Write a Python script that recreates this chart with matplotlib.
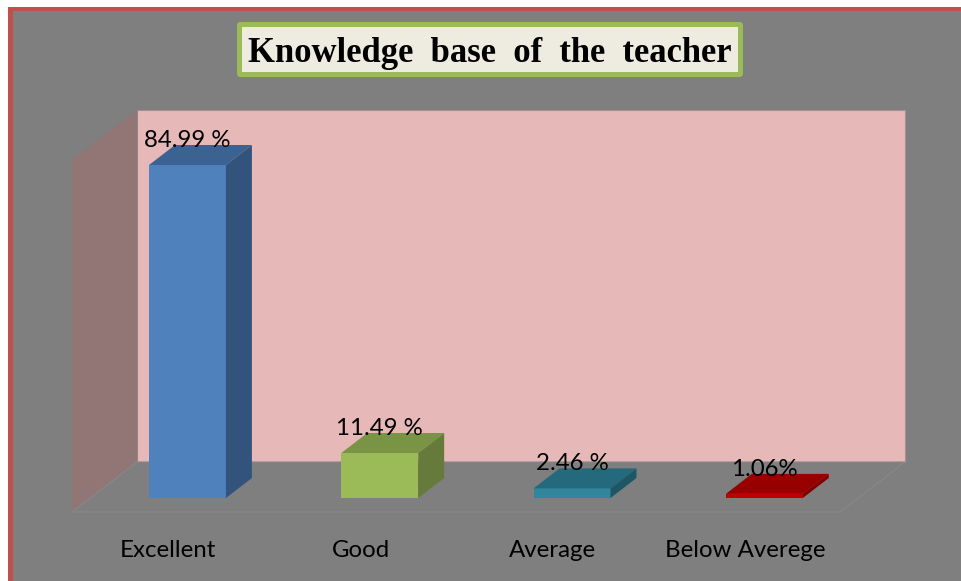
import matplotlib
matplotlib.use('Agg')
import matplotlib.pyplot as plt
from matplotlib.patches import Polygon, Rectangle, FancyBboxPatch

#Data
categories = ['Excellent', 'Good', 'Average', 'Below Averege']
values = [84.99, 11.49, 2.46, 1.06]
value_labels = ['84.99 %', '11.49 %', '2.46 %', '1.06%']
front_colors = ['#4f81bd', '#9bbb59', '#31859c', '#c00000']
top_colors = ['#3c6292', '#7a9446', '#24697c', '#980000']
side_colors = ['#32537c', '#667b3b', '#1d5766', '#7f0000']

fig = plt.figure(figsize=(9.62, 5.81), dpi=100, facecolor='white')

#Background axes works in image pixels, for frame, title and walls
bg = fig.add_axes([0, 0, 1, 1])
bg.set_xlim(0, 962)
bg.set_ylim(581, 0)
bg.axis('off')

bg.add_patch(Rectangle((8, 7), 960, 580, facecolor='#c0504d', edgecolor='none'))
bg.add_patch(Rectangle((13, 11), 960, 580, facecolor='#7f7f7f', edgecolor='none'))

#Walls and floor
bg.add_patch(Polygon([(137, 110), (905, 110), (905, 462), (137, 462)], facecolor='#e6b9b8', edgecolor='#a88f8f', lw=0.8))
bg.add_patch(Polygon([(72, 160), (137, 110), (137, 462), (72, 512)], facecolor='#927575', edgecolor='#8a7a7a', lw=0.8))
bg.add_patch(Polygon([(72, 512), (137, 462), (905, 462), (840, 512)], facecolor='#7f7f7f', edgecolor='#888888', lw=0.8))

#Title box
bg.add_patch(FancyBboxPatch((239.5, 24.5), 501, 50, boxstyle='round,pad=0,rounding_size=1',
                            facecolor='#eeece1', edgecolor='#9bbb59', lw=3.6))
bg.text(490, 54, 'Knowledge  base  of  the  teacher', family='Liberation Serif', weight='bold',
        fontsize=24.9, ha='center', va='center', color='black')

#Chart axes: x in category index, y in percent
ax = fig.add_axes([0, 0, 1, 1])
ax.patch.set_alpha(0)
ax.set_xlim(-0.975, 4.028)
ax.set_ylim(-21.18, 127.1)
ax.axis('off')

bar_width = 0.4
depth_x = 0.135
depth_y = 5.1

for i in range(len(values)):
    v = values[i]
    left = i - bar_width / 2
    right = i + bar_width / 2
    ax.bar(i, v, width=bar_width, color=front_colors[i], linewidth=0, zorder=3)
    #top face
    ax.add_patch(Polygon([(left, v), (right, v), (right + depth_x, v + depth_y), (left + depth_x, v + depth_y)],
                         facecolor=top_colors[i], edgecolor='none', zorder=3))
    #side face
    ax.add_patch(Polygon([(right, 0), (right + depth_x, depth_y), (right + depth_x, v + depth_y), (right, v)],
                         facecolor=side_colors[i], edgecolor='none', zorder=3))
    ax.text(i, v + 6.3, value_labels[i], family='Lato', fontsize=17.3, ha='center', va='center', color='black', zorder=4)
    ax.text(i - 0.1, -13.3, categories[i], family='Lato', fontsize=17.3, ha='center', va='center', color='black', zorder=4)

plt.savefig('out.png', dpi=100)
